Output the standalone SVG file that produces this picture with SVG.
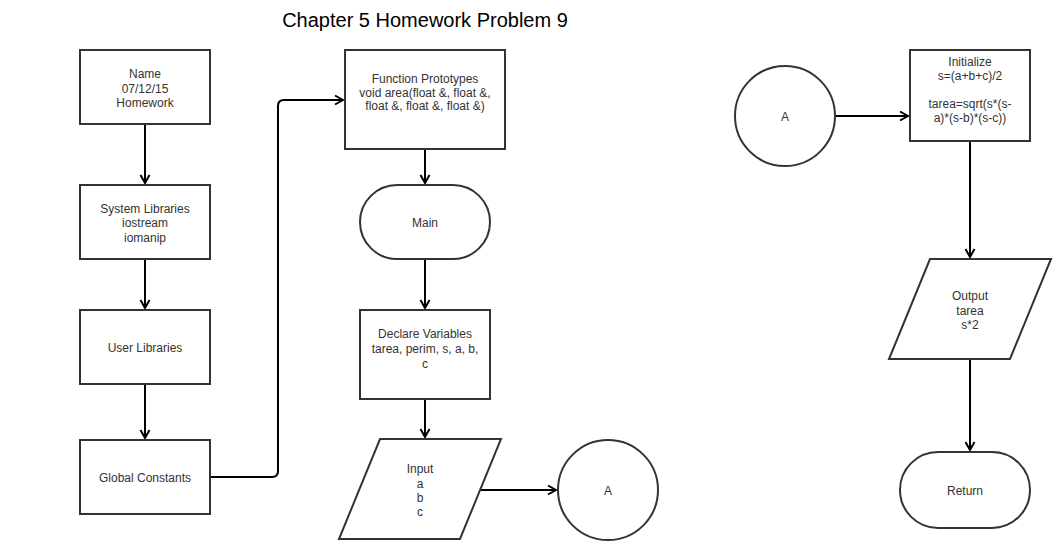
<svg xmlns="http://www.w3.org/2000/svg" width="1056" height="560" viewBox="0 0 1056 560">
<style>
.n{fill:#fff;stroke:#333;stroke-width:2}
.t{font-family:"Liberation Sans",Arial,sans-serif;font-size:12px;fill:#333;text-anchor:middle}
.c{fill:none;stroke:#000;stroke-width:2}
.title{font-family:"Liberation Sans",Arial,sans-serif;font-size:20px;fill:#000;text-anchor:middle}
</style>
<defs>
<marker id="ar" markerUnits="userSpaceOnUse" markerWidth="12" markerHeight="12" viewBox="0 0 12 12" refX="10" refY="6" orient="auto">
<path d="M2,1.5 L10,6 L2,10.5" fill="none" stroke="#000" stroke-width="2"/>
</marker>
</defs>
<rect width="1056" height="560" fill="#fff"/>
<text class="title" x="425" y="27">Chapter 5 Homework Problem 9</text>
<g id="connectors">
<path class="c" d="M145,124 V183" marker-end="url(#ar)"/>
<path class="c" d="M145,259 V308" marker-end="url(#ar)"/>
<path class="c" d="M145,384 V438" marker-end="url(#ar)"/>
<path class="c" d="M210,477 H272 Q278,477 278,471 V106 Q278,100 284,100 H343" marker-end="url(#ar)"/>
<path class="c" d="M425,149 V183" marker-end="url(#ar)"/>
<path class="c" d="M425,259 V308" marker-end="url(#ar)"/>
<path class="c" d="M425,399 V437" marker-end="url(#ar)"/>
<path class="c" d="M480,490 H556" marker-end="url(#ar)"/>
<path class="c" d="M835,116 H908" marker-end="url(#ar)"/>
<path class="c" d="M970,141 V257" marker-end="url(#ar)"/>
<path class="c" d="M970,359 V450" marker-end="url(#ar)"/>
</g>
<g id="name">
<rect class="n" x="80" y="50" width="130" height="74"/>
<text class="t" x="145" y="78">Name</text>
<text class="t" x="145" y="93">07/12/15</text>
<text class="t" x="145" y="107">Homework</text>
</g>
<g id="syslib">
<rect class="n" x="80" y="185" width="130" height="74"/>
<text class="t" x="145" y="213">System Libraries</text>
<text class="t" x="145" y="227">iostream</text>
<text class="t" x="145" y="242">iomanip</text>
</g>
<g id="userlib">
<rect class="n" x="80" y="310" width="130" height="74"/>
<text class="t" x="145" y="352">User Libraries</text>
</g>
<g id="globalconst">
<rect class="n" x="80" y="440" width="130" height="74"/>
<text class="t" x="145" y="482">Global Constants</text>
</g>
<g id="funcproto">
<rect class="n" x="345" y="50" width="160" height="99"/>
<text class="t" x="425" y="83">Function Prototypes</text>
<text class="t" x="425" y="97">void area(float &amp;, float &amp;,</text>
<text class="t" x="425" y="110">float &amp;, float &amp;, float &amp;)</text>
</g>
<g id="main">
<rect class="n" x="360" y="185" width="130" height="74" rx="37" ry="37"/>
<text class="t" x="425" y="227">Main</text>
</g>
<g id="declare">
<rect class="n" x="360" y="310" width="130" height="89"/>
<text class="t" x="425" y="338">Declare Variables</text>
<text class="t" x="425" y="353">tarea, perim, s, a, b,</text>
<text class="t" x="425" y="368">c</text>
</g>
<g id="input">
<polygon class="n" points="380,439 501,439 460,539 339,539"/>
<text class="t" x="420" y="473">Input</text>
<text class="t" x="420" y="488">a</text>
<text class="t" x="420" y="502">b</text>
<text class="t" x="420" y="516">c</text>
</g>
<g id="connA1">
<circle class="n" cx="608" cy="490" r="50"/>
<text class="t" x="608" y="495">A</text>
</g>
<g id="connA2">
<circle class="n" cx="785" cy="116" r="50"/>
<text class="t" x="785" y="121">A</text>
</g>
<g id="initialize">
<rect class="n" x="910" y="50" width="120" height="91"/>
<text class="t" x="970" y="66">Initialize</text>
<text class="t" x="970" y="80">s=(a+b+c)/2</text>
<text class="t" x="970" y="108">tarea=sqrt(s*(s-</text>
<text class="t" x="970" y="122">a)*(s-b)*(s-c))</text>
</g>
<g id="output">
<polygon class="n" points="930,259 1051,259 1010,359 889,359"/>
<text class="t" x="970" y="300">Output</text>
<text class="t" x="970" y="315">tarea</text>
<text class="t" x="970" y="329">s*2</text>
</g>
<g id="return">
<rect class="n" x="900" y="452" width="130" height="76" rx="38" ry="38"/>
<text class="t" x="965" y="495">Return</text>
</g>
</svg>
